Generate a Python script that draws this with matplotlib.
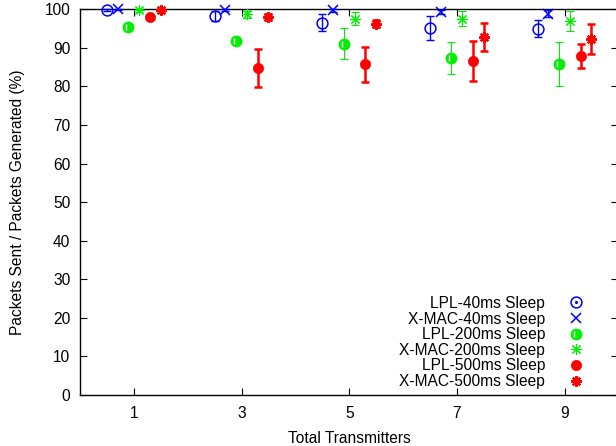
import numpy as np
import matplotlib
matplotlib.use('Agg')
import matplotlib.pyplot as plt
from matplotlib.lines import Line2D
from matplotlib.path import Path

plt.rcParams['font.family'] = ['Liberation Sans', 'DejaVu Sans']
plt.rcParams['font.size'] = 11.2

# data
transmitters = [1, 3, 5, 7, 9]
series_names = ['LPL-40ms Sleep', 'X-MAC-40ms Sleep', 'LPL-200ms Sleep',
                'X-MAC-200ms Sleep', 'LPL-500ms Sleep', 'X-MAC-500ms Sleep']
lpl_40 = [99.9, 98.3, 96.5, 95.2, 95.0]
lpl_40_err = [0.3, 1.3, 2.2, 3.1, 2.2]
xmac_40 = [100.0, 99.8, 99.7, 99.3, 98.9]
xmac_40_err = [0.1, 0.3, 0.3, 0.5, 0.8]
lpl_200 = [95.4, 91.8, 91.1, 87.4, 85.9]
lpl_200_err = [0.5, 0.6, 4.0, 4.2, 5.7]
xmac_200 = [99.7, 98.7, 97.6, 97.6, 96.9]
xmac_200_err = [0.3, 0.9, 1.8, 1.9, 2.6]
lpl_500 = [98.0, 84.8, 85.7, 86.6, 87.9]
lpl_500_err = [0.4, 4.9, 4.5, 5.1, 3.0]
xmac_500 = [99.7, 98.0, 96.3, 92.8, 92.4]
xmac_500_err = [0.3, 0.7, 0.9, 3.6, 3.9]

values = [lpl_40, xmac_40, lpl_200, xmac_200, lpl_500, xmac_500]
errors = [lpl_40_err, xmac_40_err, lpl_200_err, xmac_200_err, lpl_500_err, xmac_500_err]
offsets = [-0.5, -0.3, -0.1, 0.1, 0.3, 0.5]

BLUE, GREEN, RED = '#0000ff', '#00ee00', '#ff0000'
asterisk = (8, 2, 0)
# thin white strip that gnuplot leaves inside its filled circle
strip = Path([(-0.35, -0.62), (-0.35, 0.62), (1, 1)],
             [Path.MOVETO, Path.LINETO, Path.MOVETO])

styles = [
    dict(color=BLUE, marker='o', mfc='none', ms=7.8, mew=1.1, lw=1.0),
    dict(color=BLUE, marker='x', mfc='none', ms=7.5, mew=1.1, lw=1.0),
    dict(color=GREEN, marker='o', mfc=GREEN, ms=8.0, mew=0.5, lw=0.8),
    dict(color=GREEN, marker=asterisk, mfc='none', ms=8.0, mew=0.8, lw=0.8),
    dict(color=RED, marker='o', mfc=RED, ms=7.4, mew=0.5, lw=1.8),
    dict(color=RED, marker=asterisk, mfc='none', ms=7.5, mew=1.6, lw=1.8),
]

fig = plt.figure(figsize=(6.16, 4.46), dpi=100)
ax = fig.add_axes([80 / 616, 51 / 446, 538.4 / 616, 385.7 / 446])

x = np.array(transmitters, dtype=float)
handles = []
for i, (vals, errs, st) in enumerate(zip(values, errors, styles)):
    xs = x + offsets[i]
    ax.errorbar(xs, vals, yerr=errs, fmt='none', ecolor=st['color'],
                elinewidth=st['lw'], capsize=2.6, capthick=st['lw'], clip_on=False, zorder=3)
    ax.plot(xs, vals, linestyle='none', marker=st['marker'], color=st['color'],
            mfc=st['mfc'], mec=st['color'], ms=st['ms'], mew=st['mew'], clip_on=False, zorder=4)
    h = Line2D([], [], linestyle='none', marker=st['marker'], color=st['color'],
               mfc=st['mfc'], mec=st['color'], ms=st['ms'], mew=st['mew'])
    if i == 0:
        h = (h, Line2D([], [], linestyle='none', marker='.', color=BLUE, ms=2.5))
    if i == 2:
        ax.plot(xs, vals, linestyle='none', marker=strip, color='white', ms=8.0, mew=1.0,
                clip_on=False, zorder=5)
        h = (h, Line2D([], [], linestyle='none', marker=strip, color='white', ms=8.0, mew=1.0))
    handles.append(h)

ax.set_xlim(0, 10)
ax.set_ylim(0, 100)
ax.set_xticks(transmitters)
ax.set_yticks(np.arange(0, 101, 10))
ax.tick_params(direction='in', length=5, width=0.8, top=True, right=True, colors='black')
ax.tick_params(axis='y', pad=7)
ax.tick_params(axis='x', pad=8)
for sp in ax.spines.values():
    sp.set_linewidth(1.0)

ax.set_xlabel('Total Transmitters', labelpad=7)
ax.set_ylabel('Packets Sent / Packets Generated (%)', labelpad=14)

ax.legend(handles, series_names, loc='lower right', bbox_to_anchor=(592 / 616, 57 / 446),
          bbox_transform=fig.transFigure, frameon=False, markerfirst=False,
          handlelength=2.0, handletextpad=1.0, labelspacing=0.04, borderpad=0,
          borderaxespad=0, numpoints=1)

fig.savefig('out.png', dpi=100)
